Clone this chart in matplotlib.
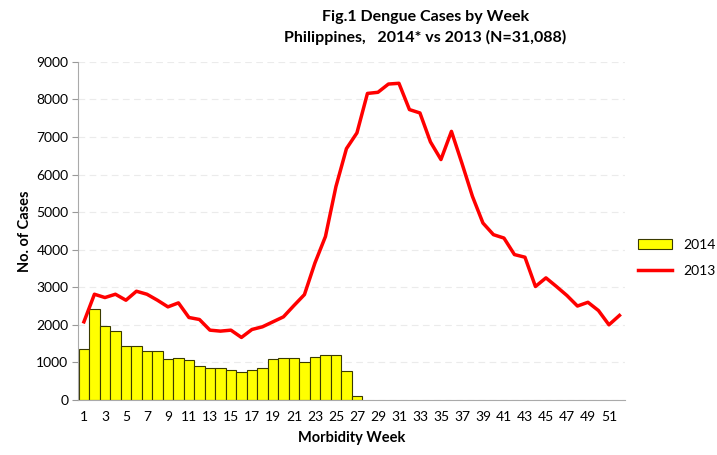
import matplotlib.pyplot as plt
import numpy as np

plt.rcParams['font.family'] = ['Lato', 'DejaVu Sans']

weeks = list(range(1, 53))

cases_2014 = [1345, 2416, 1973, 1823, 1442, 1440, 1310, 1310, 1080, 1106,
              1071, 903, 850, 850, 788, 743, 788, 858, 1088, 1106,
              1124, 1018, 1150, 1195, 1203, 779, 106]

cases_2013 = [2080, 2814, 2726, 2814, 2655, 2894, 2814, 2655, 2478, 2584,
              2195, 2142, 1858, 1832, 1858, 1664, 1876, 1947, 2080, 2212,
              2513, 2805, 3647, 4350, 5680, 6690, 7110, 8160, 8190, 8410,
              8430, 7730, 7640, 6870, 6400, 7150, 6300, 5420, 4710, 4400,
              4310, 3870, 3800, 3020, 3250, 3020, 2780, 2500, 2600, 2380,
              2000, 2250]

yticks = list(range(0, 9001, 1000))
xtick_labels = [str(w) for w in weeks[::2]]

fig = plt.figure(figsize=(7.17, 4.55), dpi=100)
ax = fig.add_axes([0.109, 0.121, 0.763, 0.743])

bars = ax.bar(weeks[:len(cases_2014)], cases_2014, width=1.0, color='#FFFF00',
              edgecolor='#3a3a00', linewidth=0.8, label='2014', zorder=2)
line, = ax.plot(weeks, cases_2013, color='#FF0000', linewidth=2.5, label='2013', zorder=3)

ax.set_xlim(0.45, 52.55)
ax.set_ylim(0, 9000)
ax.set_yticks(yticks)
ax.set_yticklabels([str(v) for v in yticks], fontsize=10)
ax.set_xticks(weeks[::2])
ax.set_xticklabels(xtick_labels, fontsize=10)
ax.tick_params(axis='x', length=0, pad=8)
ax.tick_params(axis='y', length=4, color='#999999', pad=3)

ax.grid(axis='y', color='#ebebeb', linestyle=(0, (6, 4)), linewidth=0.8, zorder=0)
for s in ['top', 'right']:
    ax.spines[s].set_visible(False)
ax.spines['left'].set_color('#aaaaaa')
ax.spines['bottom'].set_color('#aaaaaa')

ax.set_xlabel('Morbidity Week', fontsize=10.5, fontweight='bold', labelpad=6)
ax.set_ylabel('No. of Cases', fontsize=10.5, fontweight='bold', labelpad=3)

fig.text(0.593, 0.962, 'Fig.1 Dengue Cases by Week', ha='center', va='center',
         fontsize=11.5, fontweight='bold')
fig.text(0.593, 0.918, 'Philippines,   2014* vs 2013 (N=31,088)', ha='center',
         va='center', fontsize=11.5, fontweight='bold')

leg = ax.legend([bars, line], ['2014', '2013'], loc='center left',
                bbox_to_anchor=(1.0, 0.42), frameon=False,
                fontsize=10, handlelength=2.5, labelspacing=1.0)

fig.savefig('out.png', dpi=100)
